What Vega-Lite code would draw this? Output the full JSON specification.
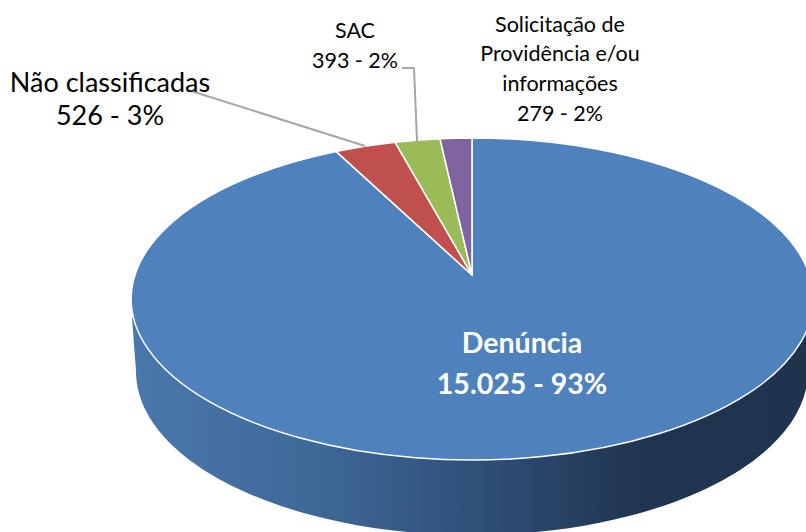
{
"$schema":"https://vega.github.io/schema/vega-lite/v6.json",
"width":806,"height":532,"padding":0,"autosize":"none",
"background":"white",
"config":{"view":{"stroke":null}},
"data":{"values":[
{"categoria":"Denúncia","valor":15025,"pct":93,"rotulo":"Denúncia\n15.025 - 93%"},
{"categoria":"Não classificadas","valor":526,"pct":3,"rotulo":"Não classificadas\n526 - 3%"},
{"categoria":"SAC","valor":393,"pct":2,"rotulo":"SAC\n393 - 2%"},
{"categoria":"Solicitação de Providência e/ou informações","valor":279,"pct":2,"rotulo":"Solicitação de\nProvidência e/ou\ninformações\n279 - 2%"}
]},
"layer":[
{"transform":[{"filter":"datum.categoria==='Denúncia'"}],
 "mark":{"type":"point","filled":true,"opacity":1,"size":4,"strokeWidth":0,
  "shape":"M-340,19 L-336,72 A336 164 0 0 0 336,72 L340,19 Z",
  "fill":{"gradient":"linear","x1":0,"y1":0,"x2":1,"y2":0,"stops":[
   {"offset":0,"color":"#4A78AB"},{"offset":0.27,"color":"#3F6897"},{"offset":0.5,"color":"#30507A"},{"offset":0.75,"color":"#1F3550"},{"offset":1,"color":"#1F334D"}]}},
 "encoding":{
  "x":{"datum":472,"type":"quantitative","scale":{"domain":[0,806],"nice":false,"zero":false},"axis":null},
  "y":{"datum":299,"type":"quantitative","scale":{"domain":[532,0],"nice":false,"zero":false},"axis":null}}},
{"mark":{"type":"point","filled":true,"opacity":1,"size":4,"stroke":"white","strokeWidth":1.5},
 "encoding":{
  "x":{"datum":472,"type":"quantitative"},
  "y":{"datum":299,"type":"quantitative"},
  "fill":{"field":"categoria","type":"nominal","legend":null,"scale":{
    "domain":["Denúncia","Não classificadas","SAC","Solicitação de Providência e/ou informações"],
    "range":["#4F81BD","#C0504D","#9BBB59","#8064A2"]}},
  "shape":{"field":"categoria","type":"nominal","legend":null,"scale":{
    "domain":["Denúncia","Não classificadas","SAC","Solicitação de Providência e/ou informações"],
    "range":["M0,-24 L-136,-147.6 A341 161 0 1 0 0,-161 Z",
             "M0,-24 L-136,-147.6 A341 161 0 0 1 -77,-156.8 Z",
             "M0,-24 L-77,-156.8 A341 161 0 0 1 -32,-160.3 Z",
             "M0,-24 L-32,-160.3 A341 161 0 0 1 0,-161 Z"]}}}},
{"transform":[{"filter":"datum.categoria==='Não classificadas'"}],
 "mark":{"type":"rule","color":"#A6A6A6","strokeWidth":2},
 "encoding":{"x":{"datum":188,"type":"quantitative"},"x2":{"datum":365},"y":{"datum":90,"type":"quantitative"},"y2":{"datum":146}}},
{"transform":[{"filter":"datum.categoria==='SAC'"}],
 "mark":{"type":"rule","color":"#A6A6A6","strokeWidth":2},
 "encoding":{"x":{"datum":402,"type":"quantitative"},"x2":{"datum":414},"y":{"datum":68,"type":"quantitative"},"y2":{"datum":68}}},
{"transform":[{"filter":"datum.categoria==='SAC'"}],
 "mark":{"type":"rule","color":"#A6A6A6","strokeWidth":2},
 "encoding":{"x":{"datum":414,"type":"quantitative"},"x2":{"datum":417},"y":{"datum":68,"type":"quantitative"},"y2":{"datum":141}}},
{"transform":[{"filter":"datum.categoria==='Denúncia'"}],
 "mark":{"type":"text","font":"Lato","fontSize":28.5,"fontWeight":"bold","color":"white","align":"center","baseline":"middle","lineBreak":"\n","lineHeight":41},
 "encoding":{"x":{"datum":522,"type":"quantitative"},"y":{"datum":344,"type":"quantitative"},"text":{"field":"rotulo"}}},
{"transform":[{"filter":"datum.categoria==='Não classificadas'"}],
 "mark":{"type":"text","font":"Lato","fontSize":27,"color":"black","align":"center","baseline":"middle","lineBreak":"\n","lineHeight":33},
 "encoding":{"x":{"datum":110,"type":"quantitative"},"y":{"datum":84,"type":"quantitative"},"text":{"field":"rotulo"}}},
{"transform":[{"filter":"datum.categoria==='SAC'"}],
 "mark":{"type":"text","font":"Lato","fontSize":21.5,"color":"black","align":"center","baseline":"middle","lineBreak":"\n","lineHeight":30},
 "encoding":{"x":{"datum":355,"type":"quantitative"},"y":{"datum":32,"type":"quantitative"},"text":{"field":"rotulo"}}},
{"transform":[{"filter":"datum.categoria==='Solicitação de Providência e/ou informações'"}],
 "mark":{"type":"text","font":"Lato","fontSize":21.5,"color":"black","align":"center","baseline":"middle","lineBreak":"\n","lineHeight":29.7},
 "encoding":{"x":{"datum":560,"type":"quantitative"},"y":{"datum":25.5,"type":"quantitative"},"text":{"field":"rotulo"}}}
]
}
